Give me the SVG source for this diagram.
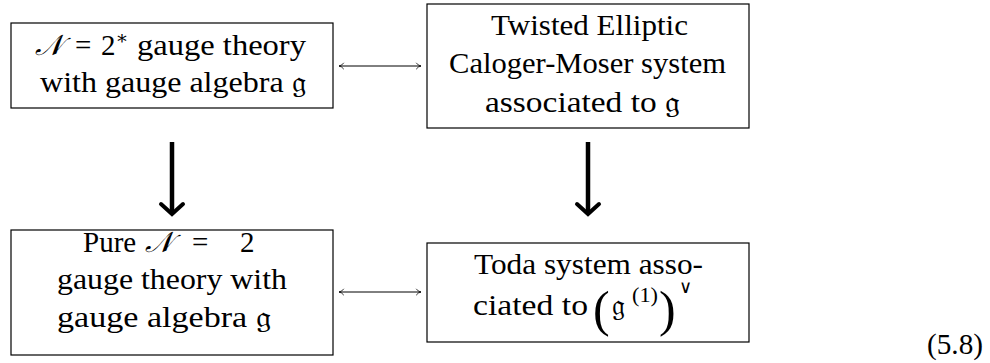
<svg xmlns="http://www.w3.org/2000/svg" width="990" height="363" viewBox="0 0 990 363">
<style>
.box{fill:#fff;stroke:#000;stroke-width:1.2}
.t{font-family:"Liberation Serif","DejaVu Serif",serif;font-size:29px;fill:#000;text-anchor:start}
.m{font-style:italic}
.thin{stroke:#000;stroke-width:1;fill:none}
.thick{stroke:#000;stroke-width:4.5;fill:none;stroke-linecap:butt}
.head{stroke:#000;stroke-width:4;fill:none;stroke-linecap:round;stroke-linejoin:miter}
</style>
<defs>
<marker id="ah" viewBox="0 0 10 10" refX="9" refY="5" markerWidth="8" markerHeight="8" markerUnits="userSpaceOnUse" orient="auto-start-reverse">
<path d="M3,1 Q5.5,4.5 9,5 Q5.5,5.5 3,9" fill="none" stroke="#000" stroke-width="1"/>
</marker>
</defs>
<g id="n1">
<rect class="box" x="11" y="23" width="322" height="85"/>
<text class="t" y="55"><tspan class="m" x="35">𝒩</tspan><tspan x="75">=</tspan><tspan x="101">2</tspan><tspan dy="-11" style="font-size:19px">∗</tspan></text>
<text class="t" x="137" y="55" textLength="169" lengthAdjust="spacingAndGlyphs">gauge theory</text>
<text class="t" x="40" y="92" textLength="266" lengthAdjust="spacingAndGlyphs">with gauge algebra 𝔤</text>
</g>
<g id="n2">
<rect class="box" x="427" y="4" width="322" height="124"/>
<text class="t" x="491" y="35" textLength="197" lengthAdjust="spacingAndGlyphs">Twisted Elliptic</text>
<text class="t" x="449" y="73" textLength="277" lengthAdjust="spacingAndGlyphs">Caloger-Moser system</text>
<text class="t" x="485" y="112" textLength="195" lengthAdjust="spacingAndGlyphs">associated to 𝔤</text>
</g>
<g id="n3">
<rect class="box" x="11" y="230" width="322" height="125"/>
<text class="t" x="83" y="252">Pure</text>
<text class="t" y="252"><tspan class="m" x="145">𝒩</tspan><tspan x="192">=</tspan><tspan x="240">2</tspan></text>
<text class="t" x="57" y="289" textLength="230" lengthAdjust="spacingAndGlyphs">gauge theory with</text>
<text class="t" x="57" y="327" textLength="214" lengthAdjust="spacingAndGlyphs">gauge algebra 𝔤</text>
</g>
<g id="n4">
<rect class="box" x="427" y="243" width="322" height="99"/>
<text class="t" x="474" y="274" textLength="229" lengthAdjust="spacingAndGlyphs">Toda system asso-</text>
<text class="t" x="473" y="315" textLength="115" lengthAdjust="spacingAndGlyphs">ciated to</text>
<text class="t" x="593" y="326" style="font-size:50px">(</text>
<text class="t" x="612" y="315">𝔤</text>
<text class="t" x="632" y="302" style="font-size:20px" textLength="26" lengthAdjust="spacingAndGlyphs">(1)</text>
<text class="t" x="659" y="326" style="font-size:50px">)</text>
<text class="t" x="679" y="293" style="font-size:18px">∨</text>
</g>
<g id="connectors">
<line class="thin" x1="339" y1="66" x2="421" y2="66" marker-start="url(#ah)" marker-end="url(#ah)"/>
<line class="thin" x1="339" y1="292" x2="421" y2="292" marker-start="url(#ah)" marker-end="url(#ah)"/>
<line class="thick" x1="172" y1="142" x2="172" y2="213"/>
<polyline class="head" points="161,204 172,214 183,204"/>
<line class="thick" x1="588" y1="142" x2="588" y2="213"/>
<polyline class="head" points="577,204 588,214 599,204"/>
</g>
<text class="t" x="927" y="354" textLength="56" lengthAdjust="spacingAndGlyphs">(5.8)</text>
</svg>
